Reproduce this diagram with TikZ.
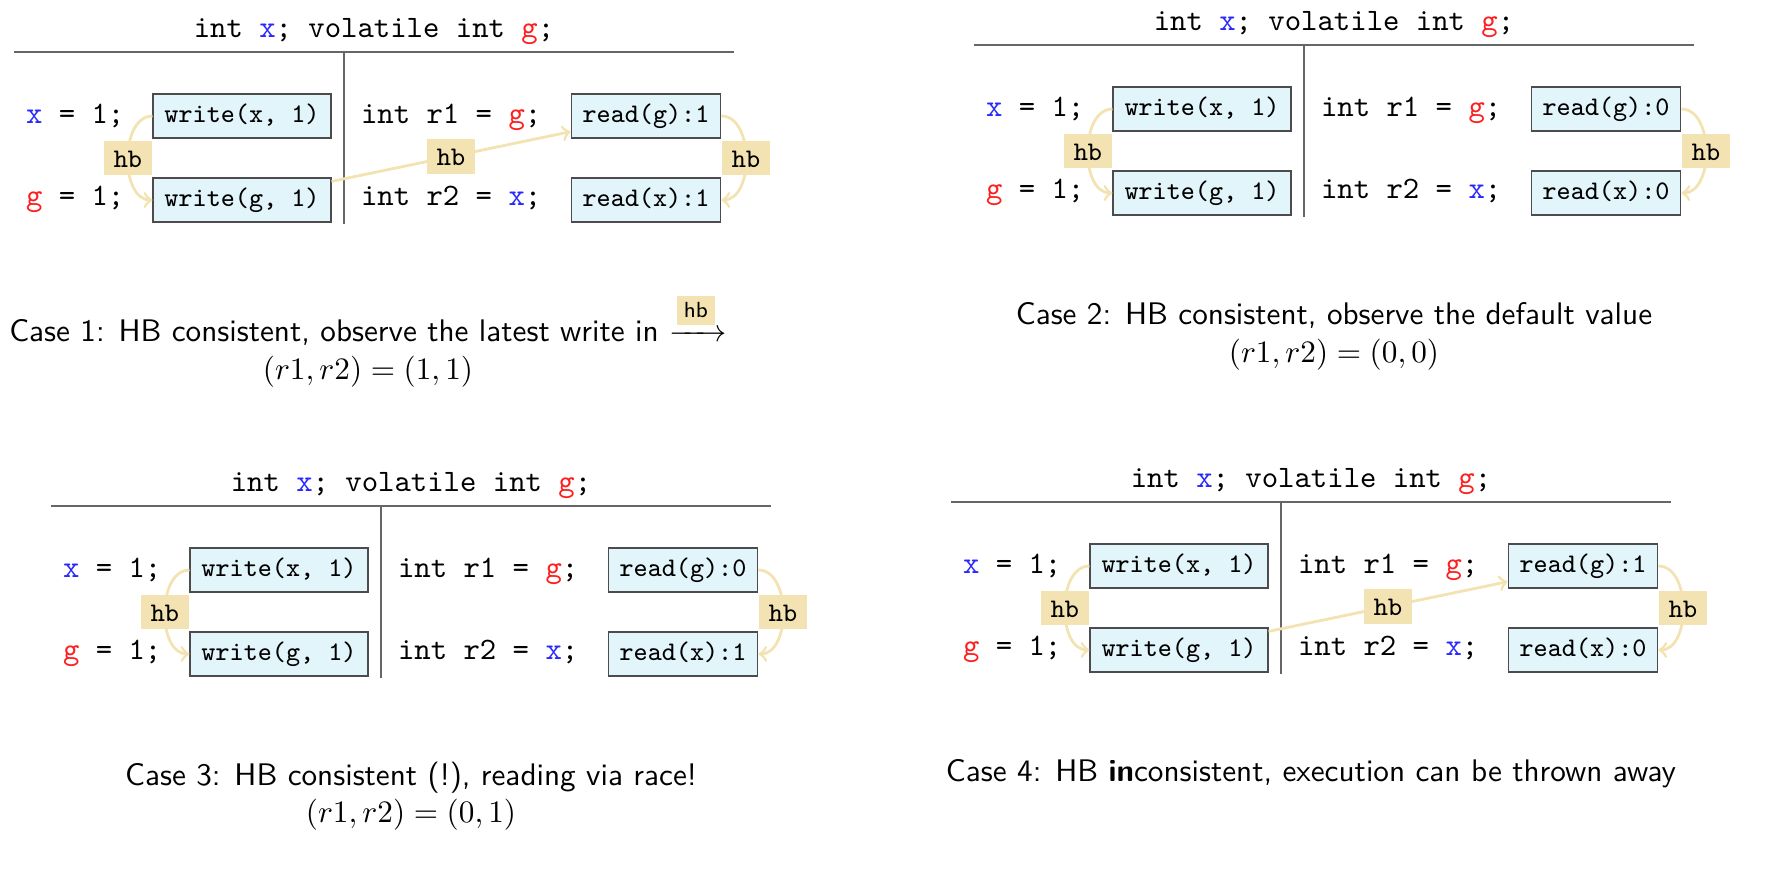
\documentclass[tikz,border=0pt]{standalone}
\usepackage{amsmath}
\usepackage{amssymb}

\definecolor{hbtan}{RGB}{243,227,178}
\definecolor{evbox}{RGB}{226,245,251}
\definecolor{varx}{RGB}{40,40,255}
\definecolor{varg}{RGB}{255,30,30}
\newcommand{\vx}{\textcolor{varx}{x}}
\newcommand{\vg}{\textcolor{varg}{g}}
\newcommand{\hbtag}{\mbox{\raisebox{2pt}{\sffamily\fontsize{7}{8}\selectfont\setlength{\fboxsep}{2.2pt}\colorbox{hbtan}{hb}}}}

\newcommand{\hbpanel}[5]{%
  \begin{scope}[shift={(#2,#3)}]
    \node [code] (#1title) at (360,-20) {int \vx; volatile int \vg;};
    \draw [rulecol] (0,0) -- (720,0);
    \draw [rulecol] (330,0) -- (330,172);
    \node [code, anchor=base west] (#1sx) at (1,71) {\vx{} = 1;};
    \node [code, anchor=base west] (#1sg) at (1,153) {\vg{} = 1;};
    \node [code, anchor=base west] (#1sr1) at (336,71) {int r1 = \vg;};
    \node [code, anchor=base west] (#1sr2) at (336,153) {int r2 = \vx;};
    \node [evnode] (#1wx) at (228,64) {write(x, 1)};
    \node [evnode] (#1wg) at (228,148) {write(g, 1)};
    \node [evnode] (#1rg) at (632,64) {read(g):#4};
    \node [evnode] (#1rx) at (632,148) {read(x):#5};
    \draw [hbarrow] (#1wx.west) to[out=180,in=180] node[hblabel] {hb} (#1wg.west);
    \draw [hbarrow] (#1rg.east) to[out=0,in=0] node[hblabel] {hb} (#1rx.east);
  \end{scope}}

\begin{document}
\begin{tikzpicture}[x=0.01126cm, y=-0.01126cm,
    code/.style={font=\ttfamily},
    rulecol/.style={draw=black!60, line width=0.6pt},
    evnode/.style={draw=black!70, line width=0.5pt, fill=evbox,
      font=\fontsize{8.6}{10}\selectfont\ttfamily,
      text height=6.5pt, text depth=2.2pt, inner xsep=3.6pt, inner ysep=2.7pt},
    hblabel/.style={fill=hbtan, font=\fontsize{8.6}{10}\selectfont\ttfamily,
      text height=5.9pt, text depth=0pt, inner xsep=3.2pt, inner ysep=2.6pt},
    hbarrow/.style={->, draw=hbtan, line width=0.9pt},
    caption/.style={font=\sffamily, align=center, inner sep=0pt}]
  \useasboundingbox (0,0) rectangle (1776,872);

  \hbpanel{c1}{14}{52}{1}{1}
  \hbpanel{c2}{974}{45}{0}{0}
  \hbpanel{c3}{51}{506}{0}{1}
  \hbpanel{c4}{951}{502}{1}{0}

  \draw [hbarrow] (c1wg) -- node[hblabel] {hb} (c1rg);
  \draw [hbarrow] (c4wg) -- node[hblabel] {hb} (c4rg);

  \node [caption, anchor=north] (cap1) at (368,292)
    {Case 1: HB consistent, observe the latest write in $\xrightarrow{\hbtag}$\\ $(r1, r2) = (1, 1)$};
  \node [caption, anchor=north] (cap2) at (1334,302)
    {Case 2: HB consistent, observe the default value\\ $(r1, r2) = (0, 0)$};
  \node [caption, anchor=north] (cap3) at (411,761)
    {Case 3: HB consistent (!), reading via race!\\ $(r1, r2) = (0, 1)$};
  \node [caption, anchor=north] (cap4) at (1311,759)
    {Case 4: HB \textbf{in}consistent, execution can be thrown away};
\end{tikzpicture}
\end{document}
